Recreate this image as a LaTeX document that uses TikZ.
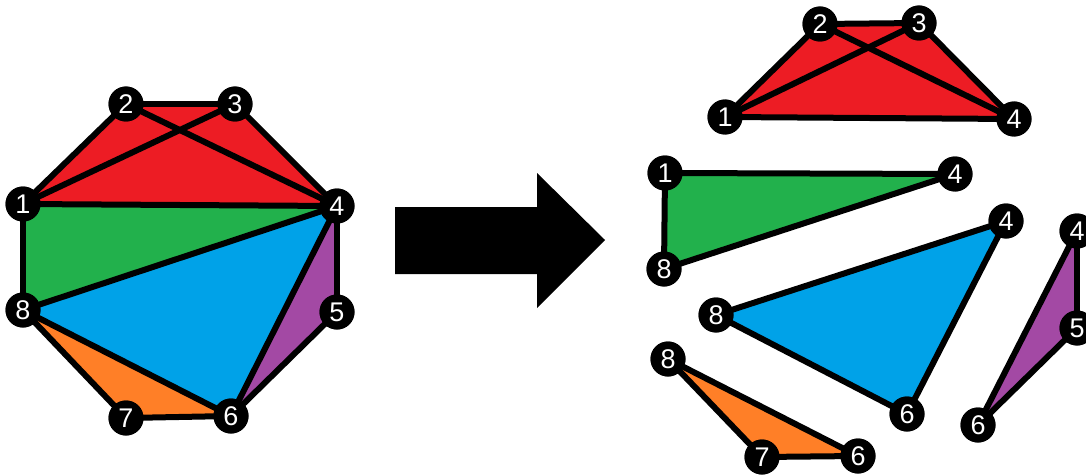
\documentclass[tikz,border=0pt]{standalone}
\usepackage{fontspec}
\setmainfont{Liberation Sans}
\definecolor{pRed}{HTML}{ED1C24}
\definecolor{pGreen}{HTML}{22B14C}
\definecolor{pBlue}{HTML}{00A2E8}
\definecolor{pPurple}{HTML}{A349A4}
\definecolor{pOrange}{HTML}{FF7F27}
\begin{document}
\begin{tikzpicture}[x=1pt,y=-1pt,
  vtx/.style={circle,fill=black,minimum size=35pt,inner sep=0pt,text=white,
    font=\fontsize{27}{27}\selectfont},
  edge/.style={line width=6pt,line join=round,line cap=round}]
\useasboundingbox (0,0) rectangle (1086,476);
\clip (0,0) rectangle (1086,476);

% vertex positions, octagon on the left
\coordinate (p1) at (23,204);
\coordinate (p2) at (126,104);
\coordinate (p3) at (235,104);
\coordinate (p4) at (337,206);
\coordinate (p5) at (337,312);
\coordinate (p6) at (231,416);
\coordinate (p7) at (126,418);
\coordinate (p8) at (23,310);

% pieces on the right
\coordinate (r1) at (725,117);
\coordinate (r2) at (820,24);
\coordinate (r3) at (919,23);
\coordinate (r4) at (1014,119);
\coordinate (g1) at (665,173);
\coordinate (g4) at (955,174);
\coordinate (g8) at (664,269);
\coordinate (b4) at (1006,221);
\coordinate (b8) at (716,315);
\coordinate (b6) at (907,414);
\coordinate (q4) at (1077,231);
\coordinate (q5) at (1077,328);
\coordinate (q6) at (978,425);
\coordinate (o8) at (668,359);
\coordinate (o7) at (762,457);
\coordinate (o6) at (858,456);

% coloured regions of the octagon
\fill[pRed] (p1) -- (p2) -- (p3) -- (p4) -- cycle;
\fill[pGreen] (p1) -- (p4) -- (p8) -- cycle;
\fill[pBlue] (p8) -- (p4) -- (p6) -- cycle;
\fill[pPurple] (p4) -- (p5) -- (p6) -- cycle;
\fill[pOrange] (p8) -- (p6) -- (p7) -- cycle;

% coloured pieces
\fill[pRed] (r1) -- (r2) -- (r3) -- (r4) -- cycle;
\fill[pGreen] (g1) -- (g4) -- (g8) -- cycle;
\fill[pBlue] (b4) -- (b6) -- (b8) -- cycle;
\fill[pPurple] (q4) -- (q5) -- (q6) -- cycle;
\fill[pOrange] (o8) -- (o6) -- (o7) -- cycle;

% named vertices (drawn again later, above the edges)
\foreach \n/\t in {p1/1,p2/2,p3/3,p4/4,p5/5,p6/6,p7/7,p8/8,
                   r1/1,r2/2,r3/3,r4/4,g1/1,g4/4,g8/8,b4/4,b8/8,b6/6,
                   q4/4,q5/5,q6/6,o8/8,o7/7,o6/6}
  \node[vtx] (N\n) at (\n) {\t};

% sides and diagonals
\foreach \a/\b in {p1/p2,p2/p3,p3/p4,p1/p4,p1/p3,p2/p4,p1/p8,p8/p4,
                   p4/p6,p8/p6,p4/p5,p5/p6,p8/p7,p7/p6,
                   r1/r2,r2/r3,r3/r4,r1/r4,r1/r3,r2/r4,
                   g1/g4,g1/g8,g8/g4,
                   b4/b6,b6/b8,b8/b4,
                   q4/q5,q5/q6,q6/q4,
                   o8/o7,o7/o6,o6/o8}
  \draw[edge] (N\a.center) -- (N\b.center);

% vertex discs on top of the edges
\foreach \n/\t in {p1/1,p2/2,p3/3,p4/4,p5/5,p6/6,p7/7,p8/8,
                   r1/1,r2/2,r3/3,r4/4,g1/1,g4/4,g8/8,b4/4,b8/8,b6/6,
                   q4/4,q5/5,q6/6,o8/8,o7/7,o6/6}
  \node[vtx] at (\n) {\t};

% block arrow
\fill[black] (395,207) -- (537,207) -- (537,173) -- (605,240)
  -- (537,308) -- (537,274) -- (395,274) -- cycle;
\end{tikzpicture}
\end{document}
